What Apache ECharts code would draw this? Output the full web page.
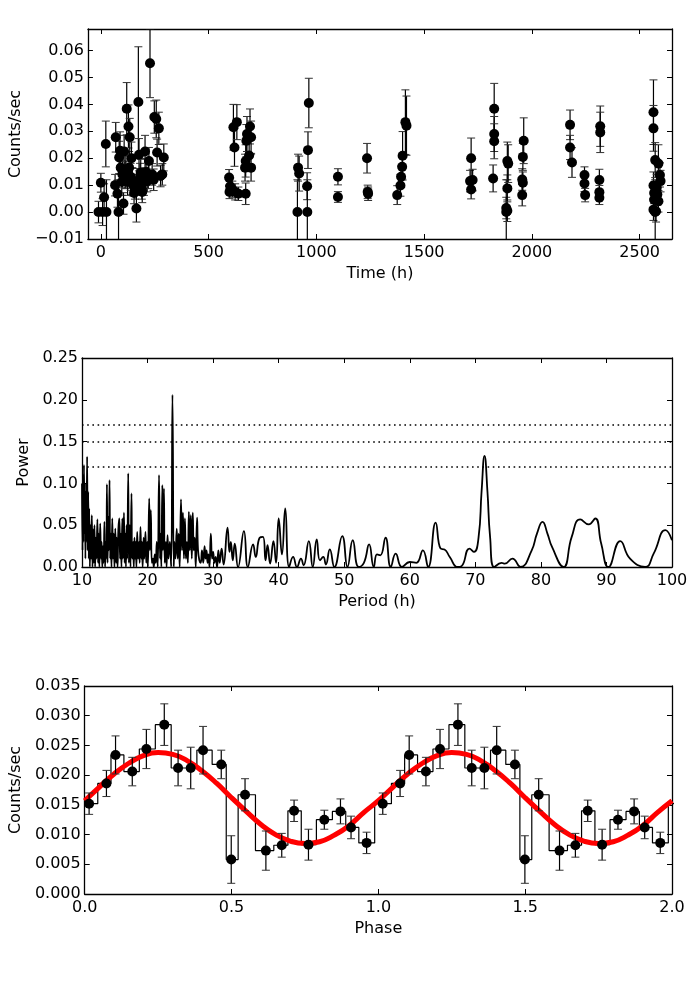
<!DOCTYPE html>
<html>
<head>
<meta charset="utf-8">
<title>Light curve, periodogram and folded profile</title>
<script src="https://cdn.jsdelivr.net/npm/echarts@6/dist/echarts.min.js"></script>
<style>
    html, body { margin: 0; padding: 0; background: #fff; }
    #chart { width: 700px; height: 1000px; }
</style>
</head>
<body>
<div id="chart"></div>
<script>
// Light curve (top panel)
const timeH = [
    -11, 0, 8, 15, 23, 26, 66, 69, 77, 82, 85, 89, 92, 97, 100, 105, 108, 112, 116, 120,
    124, 128, 131, 134, 138, 142, 146, 150, 154, 158, 165, 168, 174, 177, 182, 185, 190, 192, 200, 205,
    210, 215, 220, 223, 228, 238, 245, 248, 257, 261, 269, 277, 285, 292,
    595, 597, 600, 610, 615, 620, 623, 631, 638, 669, 672, 672, 675, 678, 688, 692, 697, 697,
    912, 915, 920, 957, 958, 961, 965,
    1100, 1100, 1235, 1238, 1240,
    1375, 1390, 1393, 1398, 1400, 1413, 1418,
    1713, 1718, 1718, 1725,
    1820, 1825, 1825, 1825,
    1881, 1881, 1886, 1886, 1886, 1890,
    1955, 1955, 1958, 1958, 1962,
    2177, 2177, 2186, 2244, 2244, 2247,
    2313, 2313, 2313, 2317, 2317,
    2564, 2564, 2564, 2564, 2567, 2567, 2572, 2572, 2576, 2579, 2582, 2587, 2587, 2594, 2597
];
const rate = [
    0.0, 0.0109, 0.0, 0.0055, 0.0253, 0.0, 0.0100, 0.0278, 0.0068, 0.0, 0.0203, 0.0228, 0.0165, 0.0112, 0.0140, 0.0032, 0.0225, 0.0137, 0.0149, 0.0384,
    0.0112, 0.0318, 0.0165, 0.0278, 0.0131, 0.0200, 0.0115, 0.0100, 0.0071, 0.0088, 0.0013, 0.0112, 0.0409, 0.0213, 0.0131, 0.0146, 0.0088, 0.0075, 0.0112, 0.0225,
    0.0149, 0.0115, 0.0137, 0.0190, 0.0553, 0.0140, 0.0120, 0.0353, 0.0346, 0.0221, 0.0311, 0.0134, 0.0140, 0.0203,
    0.0128, 0.0075, 0.0096, 0.0085, 0.0315, 0.0240, 0.0075, 0.0334, 0.0068, 0.0165, 0.0190, 0.0068, 0.0265, 0.0290, 0.0210, 0.0318, 0.0278, 0.0165,
    0.0, 0.0165, 0.0143, 0.0096, 0.0, 0.0230, 0.0405,
    0.0131, 0.0056, 0.0200, 0.0075, 0.0068,
    0.0063, 0.0099, 0.0131, 0.0168, 0.0209, 0.0334, 0.0321,
    0.0115, 0.0200, 0.0084, 0.0119,
    0.0125, 0.0384, 0.0290, 0.0263,
    0.0015, 0.0, 0.0005, 0.0088, 0.0190, 0.0180,
    0.0063, 0.0121, 0.0109, 0.0205, 0.0265,
    0.0324, 0.0240, 0.0184, 0.0138, 0.0106, 0.0063,
    0.0119, 0.0074, 0.0053, 0.0319, 0.0296,
    0.0371, 0.0311, 0.0099, 0.0009, 0.0071, 0.0046, 0.0193, 0.0, 0.0003, 0.0090, 0.0065, 0.0180, 0.0040, 0.0138, 0.0115
];
const rateErr = [
    0.004, 0.0035, 0.005, 0.005, 0.0085, 0.012, 0.004, 0.0055, 0.005, 0.012, 0.006, 0.007, 0.006, 0.005, 0.005, 0.004, 0.006, 0.005, 0.006, 0.0097,
    0.005, 0.008, 0.006, 0.007, 0.005, 0.006, 0.005, 0.004, 0.004, 0.004, 0.005, 0.005, 0.0205, 0.006, 0.005, 0.005, 0.004, 0.004, 0.005, 0.006,
    0.005, 0.004, 0.005, 0.005, 0.0128, 0.004, 0.004, 0.006, 0.007, 0.005, 0.006, 0.004, 0.004, 0.005,
    0.003, 0.0025, 0.003, 0.003, 0.0085, 0.007, 0.003, 0.0065, 0.0025, 0.005, 0.006, 0.004, 0.006, 0.0065, 0.006, 0.0065, 0.006, 0.005,
    0.012, 0.005, 0.0065, 0.005, 0.012, 0.0068, 0.0092,
    0.003, 0.002, 0.0055, 0.0025, 0.0025,
    0.0035, 0.004, 0.004, 0.0045, 0.009, 0.012, 0.011,
    0.004, 0.0075, 0.0035, 0.004,
    0.005, 0.0094, 0.0065, 0.0065,
    0.004, 0.012, 0.004, 0.005, 0.007, 0.007,
    0.004, 0.004, 0.004, 0.005, 0.0085,
    0.0055, 0.0045, 0.0055, 0.003, 0.003, 0.0025,
    0.004, 0.0025, 0.0025, 0.0075, 0.0075,
    0.012, 0.0085, 0.005, 0.004, 0.004, 0.004, 0.0065, 0.012, 0.004, 0.005, 0.004, 0.007, 0.004, 0.0045, 0.004
];
const timeTicks = [0, 500, 1000, 1500, 2000, 2500];
const rateTicks = [-0.01, 0, 0.01, 0.02, 0.03, 0.04, 0.05, 0.06];

// Periodogram (middle panel)
const periodH = [
    10.0, 10.08, 10.15, 10.22, 10.3, 10.38, 10.45, 10.52, 10.6, 10.68, 10.78, 10.86, 10.95, 11.03, 11.1, 11.2, 11.3, 11.4, 11.5, 11.6,
    11.7, 11.8, 11.9, 12.0, 12.1, 12.2, 12.35, 12.45, 12.55, 12.65, 12.78, 12.9, 13.0, 13.1, 13.2, 13.3, 13.42, 13.52, 13.62, 13.72,
    13.8, 13.9, 14.0, 14.1, 14.2, 14.3, 14.4, 14.5, 14.62, 14.72, 14.85, 14.95, 15.08, 15.2, 15.3, 15.42, 15.55, 15.7, 15.8, 15.92,
    16.02, 16.15, 16.25, 16.4, 16.5, 16.6, 16.7, 16.8, 16.9, 17.05, 17.15, 17.3, 17.4, 17.55, 17.65, 17.8, 17.9, 18.0, 18.1, 18.2,
    18.3, 18.42, 18.55, 18.7, 18.8, 18.92, 19.05, 19.15, 19.25, 19.4, 19.5, 19.68, 19.8, 19.95, 20.05, 20.25, 20.35, 20.5, 20.65, 20.8,
    20.95, 21.1, 21.25, 21.4, 21.55, 21.75, 21.9, 22.0, 22.1, 22.25, 22.35, 22.5, 22.62, 22.8, 22.9, 23.05, 23.2, 23.4, 23.6, 23.8,
    24.0, 24.1, 24.25, 24.45, 24.6, 24.75, 24.9, 25.1, 25.25, 25.4, 25.55, 25.7, 25.85, 26.0, 26.15, 26.3, 26.45, 26.6, 26.75, 26.9,
    27.05, 27.2, 27.35, 27.55, 27.7, 27.9, 28.1, 28.3, 28.5, 28.7, 28.85, 29.0, 29.15, 29.3, 29.45, 29.65, 29.85, 30.0, 30.2, 30.4,
    30.6, 30.8, 31.0, 31.3, 31.6, 32.2, 32.5, 32.7, 33.0, 33.3, 33.8, 34.7, 35.3, 36.1, 36.5, 37.1, 37.6, 38.0, 38.3, 38.7,
    39.2, 39.6, 40.0, 40.5, 41.0, 41.6, 42.2, 42.8, 43.4, 43.8, 44.6, 45.2, 45.8, 46.3, 46.8, 47.2, 47.8, 48.5, 49.7, 50.5,
    51.3, 52.2, 53.0, 53.8, 54.5, 55.0, 55.5, 56.3, 57.1, 57.85, 58.8, 60.0, 61.0, 62.0, 62.8, 63.95, 64.7, 65.3, 66.1, 67.3,
    67.9, 69.1, 69.8, 70.5, 70.95, 71.4, 71.85, 72.25, 72.9, 74.0, 74.5, 75.65, 76.9, 78.6, 79.4, 80.25, 81.0, 81.7, 83.45, 84.7,
    86.0, 87.3, 88.3, 89.2, 90.3, 92.1, 93.6, 95.9, 97.2, 99.0, 100.0
];
const power = [
    0.100, 0.020, 0.110, 0.030, 0.122, 0.040, 0.100, 0.010, 0.090, 0.030, 0.132, 0.020, 0.090, 0.010, 0.070, 0.000, 0.050, 0.010, 0.062, 0.000,
    0.045, 0.005, 0.050, 0.000, 0.035, 0.010, 0.057, 0.005, 0.040, 0.000, 0.052, 0.010, 0.030, 0.000, 0.025, 0.005, 0.054, 0.000, 0.030, 0.010,
    0.099, 0.005, 0.060, 0.020, 0.104, 0.010, 0.040, 0.000, 0.058, 0.010, 0.040, 0.000, 0.046, 0.005, 0.035, 0.000, 0.045, 0.058, 0.010, 0.040,
    0.000, 0.058, 0.010, 0.065, 0.005, 0.040, 0.000, 0.050, 0.010, 0.112, 0.005, 0.050, 0.000, 0.088, 0.010, 0.030, 0.000, 0.035, 0.010, 0.030,
    0.000, 0.042, 0.010, 0.030, 0.005, 0.048, 0.010, 0.030, 0.000, 0.035, 0.010, 0.042, 0.005, 0.030, 0.000, 0.082, 0.020, 0.068, 0.005, 0.010,
    0.000, 0.015, 0.005, 0.030, 0.000, 0.110, 0.010, 0.040, 0.000, 0.098, 0.020, 0.094, 0.005, 0.030, 0.000, 0.038, 0.010, 0.030, 0.000, 0.206,
    0.000, 0.030, 0.010, 0.046, 0.010, 0.040, 0.000, 0.081, 0.020, 0.065, 0.010, 0.058, 0.010, 0.030, 0.005, 0.066, 0.020, 0.062, 0.010, 0.065,
    0.020, 0.035, 0.000, 0.059, 0.020, 0.008, 0.005, 0.020, 0.005, 0.025, 0.010, 0.020, 0.005, 0.015, 0.000, 0.040, 0.010, 0.018, 0.005, 0.012,
    0.000, 0.020, 0.005, 0.022, 0.003, 0.047, 0.018, 0.030, 0.008, 0.028, 0.000, 0.043, 0.000, 0.027, 0.012, 0.035, 0.036, 0.008, 0.026, 0.004,
    0.031, 0.005, 0.058, 0.015, 0.070, 0.000, 0.012, 0.000, 0.010, 0.002, 0.031, 0.000, 0.033, 0.008, 0.012, 0.003, 0.021, 0.000, 0.037, 0.000,
    0.032, 0.000, 0.005, 0.027, 0.000, 0.015, 0.014, 0.035, 0.000, 0.016, 0.000, 0.006, 0.005, 0.020, 0.000, 0.053, 0.022, 0.021, 0.012, 0.000,
    0.001, 0.022, 0.018, 0.036, 0.090, 0.133, 0.090, 0.036, 0.000, 0.005, 0.004, 0.010, 0.000, 0.020, 0.040, 0.054, 0.040, 0.024, 0.000, 0.036,
    0.057, 0.051, 0.058, 0.028, 0.000, 0.031, 0.010, 0.000, 0.016, 0.044, 0.032
];
const sigLevels = [0.12, 0.15, 0.175];
const periodTicks = [10, 20, 30, 40, 50, 60, 70, 80, 90, 100];
const powerTicks = [0, 0.05, 0.10, 0.15, 0.20, 0.25];

// Folded profile (bottom panel), one cycle
const foldPhase = [
    0.015, 0.074, 0.105, 0.162, 0.210, 0.271, 0.318, 0.361, 0.403, 0.465,
    0.499, 0.546, 0.617, 0.671, 0.713, 0.762, 0.816, 0.871, 0.907, 0.960
];
const foldRate = [
    0.0152, 0.0186, 0.0234, 0.0206, 0.0244, 0.0285, 0.0212, 0.0212, 0.0242, 0.0218,
    0.0058, 0.0167, 0.0073, 0.0082, 0.0140, 0.0083, 0.0125, 0.0139, 0.0112, 0.0086
];
const foldErr = [
    0.0018, 0.0022, 0.0032, 0.0024, 0.0033, 0.0035, 0.0030, 0.0035, 0.0040, 0.0024,
    0.0040, 0.0027, 0.0033, 0.0020, 0.0018, 0.0026, 0.0016, 0.0021, 0.0019, 0.0018
];
const modelPhase = [0, 0.05, 0.1, 0.15, 0.2, 0.25, 0.3, 0.35, 0.4, 0.45, 0.5,
    0.55, 0.6, 0.65, 0.7, 0.75, 0.8, 0.85, 0.9, 0.95];
const modelRate = [0.0157, 0.0180, 0.0202, 0.0220, 0.0233, 0.0238, 0.0235, 0.0224, 0.0207, 0.0186, 0.0162,
    0.0139, 0.0117, 0.0100, 0.0089, 0.0085, 0.0088, 0.0099, 0.0115, 0.0137];
const phaseTicks = [0, 0.5, 1.0, 1.5, 2.0];
const foldTicks = [0, 0.005, 0.010, 0.015, 0.020, 0.025, 0.030, 0.035];

const FONT = 'DejaVu Sans';

document.addEventListener('DOMContentLoaded', function() {
    const chart = echarts.init(document.getElementById('chart'), null, { renderer: 'canvas' });
    chart.setOption(buildOption());
});

function fmt(digits) {
    return function(v) {
        const s = Number(v).toFixed(digits);
        return s.charAt(0) === '-' ? '\u2212' + s.slice(1) : s;
    };
}

// A value axis pair (labelled + mirror) with matplotlib-like inside ticks
function makeAxis(kind, gridIndex, min, max, ticks, digits, name, nameGap) {
    const base = {
        type: 'value',
        gridIndex: gridIndex,
        min: min,
        max: max,
        splitLine: { show: false },
        axisLine: { show: true, onZero: false, lineStyle: { color: '#000', width: 1.3 } },
        axisTick: { show: true, inside: true, length: 5, customValues: ticks, lineStyle: { color: '#000', width: 1 } }
    };
    const main = Object.assign({}, base, {
        position: kind === 'x' ? 'bottom' : 'left',
        name: name,
        nameLocation: 'middle',
        nameGap: nameGap,
        nameTextStyle: { fontFamily: FONT, fontSize: 16, color: '#000' },
        axisLabel: {
            show: true, customValues: ticks, formatter: fmt(digits),
            fontFamily: FONT, fontSize: 16, color: '#000', margin: kind === 'x' ? 6 : 4
        }
    });
    const mirror = Object.assign({}, base, {
        position: kind === 'x' ? 'top' : 'right',
        axisLabel: { show: false }
    });
    return [main, mirror];
}

function renderErrorBar(params, api) {
    const x = api.value(0), y = api.value(1), e = api.value(2);
    const top = api.coord([x, y + e]);
    const bot = api.coord([x, y - e]);
    const half = 4;
    const style = { stroke: '#000', lineWidth: 1.2 };
    const capStyle = { stroke: '#333', lineWidth: 1 };
    return {
        type: 'group',
        children: [
            { type: 'line', shape: { x1: top[0], y1: top[1], x2: bot[0], y2: bot[1] }, style: style },
            { type: 'line', shape: { x1: top[0] - half, y1: top[1], x2: top[0] + half, y2: top[1] }, style: capStyle },
            { type: 'line', shape: { x1: bot[0] - half, y1: bot[1], x2: bot[0] + half, y2: bot[1] }, style: capStyle }
        ]
    };
}

function buildOption() {
    const grids = [
        { left: 82, right: 28, top: 29, height: 210 },
        { left: 82, right: 28, top: 358, height: 209 },
        { left: 82, right: 28, top: 686, height: 208 }
    ];

    const xAxes = [].concat(
        makeAxis('x', 0, -60, 2650, timeTicks, 0, 'Time (h)', 27),
        makeAxis('x', 1, 10, 100, periodTicks, 0, 'Period (h)', 27),
        makeAxis('x', 2, 0, 2, phaseTicks, 1, 'Phase', 27)
    );
    const yAxes = [].concat(
        makeAxis('y', 0, -0.01, 0.068, rateTicks, 2, 'Counts/sec', 58),
        makeAxis('y', 1, 0, 0.25, powerTicks, 2, 'Power', 47),
        makeAxis('y', 2, 0, 0.035, foldTicks, 3, 'Counts/sec', 57)
    );

    // light curve
    const lcPoints = timeH.map((t, i) => [t, rate[i], rateErr[i]]);

    // periodogram
    const pgLine = periodH.map((p, i) => [p, power[i]]);

    // folded profile: two cycles of points, a wider run for the step outline
    const foldPoints = [];
    [0, 1].forEach(c => {
        foldPhase.forEach((p, i) => foldPoints.push([p + c, foldRate[i], foldErr[i]]));
    });
    const stepLine = [];
    [-1, 0, 1, 2].forEach(c => {
        foldPhase.forEach((p, i) => stepLine.push([p + c, foldRate[i]]));
    });
    const modelLine = [];
    [0, 1, 2].forEach(c => {
        modelPhase.forEach((p, i) => {
            if (p + c <= 2) modelLine.push([p + c, modelRate[i]]);
        });
    });

    const dot = { color: '#000', opacity: 1 };

    return {
        animation: false,
        backgroundColor: '#fff',
        grid: grids,
        xAxis: xAxes,
        yAxis: yAxes,
        series: [
            {
                type: 'custom', xAxisIndex: 0, yAxisIndex: 0, clip: true, z: 3,
                renderItem: renderErrorBar, data: lcPoints
            },
            {
                type: 'scatter', xAxisIndex: 0, yAxisIndex: 0, clip: true, z: 4,
                symbol: 'circle', symbolSize: 10, itemStyle: dot,
                data: lcPoints.map(d => [d[0], d[1]])
            },
            {
                type: 'line', xAxisIndex: 2, yAxisIndex: 2, z: 3,
                showSymbol: false, smooth: 0.5,
                lineStyle: { color: '#000', width: 1.8 },
                data: pgLine,
                markLine: {
                    silent: true, symbol: 'none', animation: false,
                    label: { show: false },
                    lineStyle: { color: '#000', width: 1.6, type: [1.6, 3.6] },
                    data: sigLevels.map(v => ({ yAxis: v }))
                }
            },
            {
                type: 'line', xAxisIndex: 4, yAxisIndex: 4, z: 2, clip: true,
                showSymbol: false, step: 'middle',
                lineStyle: { color: '#000', width: 1.2 },
                data: stepLine
            },
            {
                type: 'line', xAxisIndex: 4, yAxisIndex: 4, z: 3,
                showSymbol: false, smooth: true,
                lineStyle: { color: '#ff0000', width: 5 },
                data: modelLine
            },
            {
                type: 'custom', xAxisIndex: 4, yAxisIndex: 4, clip: true, z: 4,
                renderItem: renderErrorBar, data: foldPoints
            },
            {
                type: 'scatter', xAxisIndex: 4, yAxisIndex: 4, z: 5,
                symbol: 'circle', symbolSize: 10, itemStyle: dot,
                data: foldPoints.map(d => [d[0], d[1]])
            }
        ]
    };
}
</script>
</body>
</html>
